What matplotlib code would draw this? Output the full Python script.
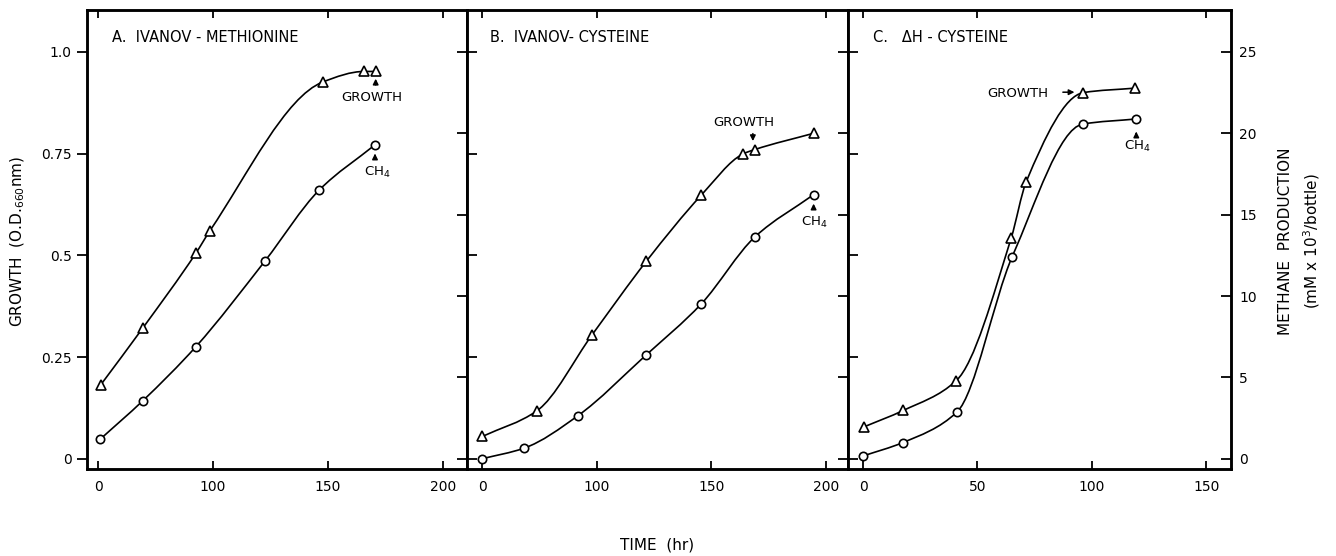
import matplotlib
matplotlib.use("Agg")
import matplotlib.pyplot as plt
from matplotlib.path import Path
from matplotlib.patches import PathPatch

# data (x in axis units, growth in O.D.660, methane in mM x 10^3/bottle)
# panels A and B have a broken time axis: the tick labelled "0" sits at axis position 50
a_growth_t = [51.2, 69.4, 92.5, 98.7, 147.7, 165.8, 170.7]
a_growth = [0.182, 0.321, 0.505, 0.561, 0.926, 0.952, 0.952]
a_ch4_t = [50.9, 69.4, 92.6, 122.6, 146.2, 170.4]
a_ch4 = [1.2, 3.56, 6.9, 12.16, 16.52, 19.29]

b_growth_t = [50.1, 73.9, 98.0, 121.7, 145.6, 163.7, 168.9, 194.6]
b_growth = [0.055, 0.118, 0.305, 0.486, 0.648, 0.749, 0.760, 0.800]
b_ch4_t = [49.9, 68.4, 91.7, 121.3, 145.6, 169.1, 194.6]
b_ch4 = [0.0, 0.66, 2.64, 6.35, 9.52, 13.65, 16.23]

c_growth_t = [0.6, 17.6, 40.7, 64.7, 71.3, 96.3, 118.9]
c_growth = [0.079, 0.119, 0.192, 0.542, 0.681, 0.900, 0.911]
c_ch4_t = [0.1, 17.4, 41.0, 65.2, 95.9, 119.4]
c_ch4 = [0.18, 1.0, 2.87, 12.43, 20.56, 20.88]

ab_xticks = [50, 100, 150, 200]
ab_xlabels = ["0", "100", "150", "200"]
c_xticks = [0, 50, 100, 150]
c_xlabels = ["0", "50", "100", "150"]
growth_ticks = [0, 0.25, 0.5, 0.75, 1.0]
growth_labels = ["0", "0.25", "0.5", "0.75", "1.0"]
methane_ticks = [0, 5, 10, 15, 20, 25]

titles = ["A.  IVANOV - METHIONINE", "B.  IVANOV- CYSTEINE", "C.   \u0394H - CYSTEINE"]

plt.rcParams["font.family"] = "DejaVu Sans"
plt.rcParams["mathtext.fontset"] = "dejavusans"


def smooth_line(ax, xs, ys):
    # hand-drawn look: monotone (pchip style) bezier curve through the points
    n = len(xs)
    h = [xs[k + 1] - xs[k] for k in range(n - 1)]
    d = [(ys[k + 1] - ys[k]) / h[k] for k in range(n - 1)]
    m = [d[0]] + [0.0] * (n - 2) + [d[-1]]
    for k in range(1, n - 1):
        if d[k - 1] * d[k] > 0:
            w1 = 2 * h[k] + h[k - 1]
            w2 = h[k] + 2 * h[k - 1]
            m[k] = (w1 + w2) / (w1 / d[k - 1] + w2 / d[k])
    verts = [(xs[0], ys[0])]
    codes = [Path.MOVETO]
    for k in range(n - 1):
        verts += [(xs[k] + h[k] / 3, ys[k] + m[k] * h[k] / 3),
                  (xs[k + 1] - h[k] / 3, ys[k + 1] - m[k + 1] * h[k] / 3),
                  (xs[k + 1], ys[k + 1])]
        codes += [Path.CURVE4] * 3
    ax.add_patch(PathPatch(Path(verts, codes), fill=False, lw=1.2,
                           edgecolor="black", zorder=2))


W, H = 1336, 556
fig = plt.figure(figsize=(W / 100, H / 100), dpi=100)

ylo, yhi = -0.025, 1.103
panels = [
    dict(px=(87, 467), xlim=(45.2, 210.4), xt=ab_xticks, xl=ab_xlabels,
         gt=a_growth_t, g=a_growth, ct=a_ch4_t, c=a_ch4),
    dict(px=(467, 848), xlim=(43.4, 209.6), xt=ab_xticks, xl=ab_xlabels,
         gt=b_growth_t, g=b_growth, ct=b_ch4_t, c=b_ch4),
    dict(px=(848, 1231), xlim=(-6.6, 160.8), xt=c_xticks, xl=c_xlabels,
         gt=c_growth_t, g=c_growth, ct=c_ch4_t, c=c_ch4),
]

axes = []
for i, p in enumerate(panels):
    l, r = p["px"]
    ax = fig.add_axes([l / W, 1 - 469 / H, (r - l) / W, 459 / H])
    ax.set_xlim(*p["xlim"])
    ax.set_ylim(ylo, yhi)
    ax.set_xticks(p["xt"])
    ax.set_xticklabels(p["xl"])
    ax.tick_params(axis="x", direction="in", top=True, length=6, width=1.3,
                   labelsize=10, pad=8)
    ax.set_yticks(growth_ticks)
    if i == 0:
        ax.set_yticklabels(growth_labels)
        ax.tick_params(axis="y", direction="out", length=7, width=1.3,
                       labelsize=10, pad=4)
    else:
        ax.set_yticklabels([])
        ax.tick_params(axis="y", direction="in", length=7, width=1.3)
    for s in ax.spines.values():
        s.set_linewidth(1.8)

    ax2 = ax.twinx()
    ax2.set_ylim(ylo * 25, yhi * 25)
    ax2.set_yticks(methane_ticks)
    ax2.tick_params(axis="y", direction="in", length=7, width=1.3,
                    labelsize=10, pad=6)
    if i < 2:
        ax2.set_yticklabels([])
    for s in ax2.spines.values():
        s.set_linewidth(1.8)

    smooth_line(ax, p["gt"], p["g"])
    ax.plot(p["gt"], p["g"], ls="none", marker="^", ms=7,
            mfc="white", mec="black", mew=1.2, zorder=3)
    smooth_line(ax2, p["ct"], p["c"])
    ax2.plot(p["ct"], p["c"], ls="none", marker="o", ms=6,
             mfc="white", mec="black", mew=1.2, zorder=3)

    ax.text(0.066 if i != 1 else 0.06, 0.939, titles[i], transform=ax.transAxes,
            fontsize=10.5, ha="left", va="center")
    axes.append(ax)

arrow = dict(arrowstyle="-|>", color="black", lw=1.1, mutation_scale=8)
txt = dict(fontsize=9.5, ha="center", va="center")

a, b, c = axes
a.annotate("", xy=(170.7, 0.941), xytext=(170.7, 0.912), arrowprops=arrow)
a.text(169.1, 0.889, "GROWTH", **txt)
a.annotate("", xy=(170.4, 0.757), xytext=(170.4, 0.735), arrowprops=arrow)
a.text(171.3, 0.703, "CH$_4$", **txt)

b.annotate("", xy=(168.1, 0.774), xytext=(168.1, 0.806), arrowprops=arrow)
b.text(164.1, 0.826, "GROWTH", **txt)
b.annotate("", xy=(194.6, 0.634), xytext=(194.6, 0.607), arrowprops=arrow)
b.text(194.7, 0.582, "CH$_4$", **txt)

c.annotate("", xy=(93.6, 0.901), xytext=(86.1, 0.901), arrowprops=arrow)
c.text(67.8, 0.899, "GROWTH", **txt)
c.annotate("", xy=(119.4, 0.811), xytext=(119.4, 0.789), arrowprops=arrow)
c.text(119.8, 0.767, "CH$_4$", **txt)

fig.text(18 / W, 1 - 241 / H, "GROWTH  (O.D.$_{660}$nm)", rotation=90,
         ha="center", va="center", fontsize=11)
fig.text(1300 / W, 1 - 241 / H, "METHANE  PRODUCTION\n(mM x 10$^3$/bottle)",
         rotation=90, ha="center", va="center", fontsize=11, linespacing=1.5)
fig.text(657 / W, 1 - 545 / H, "TIME  (hr)", ha="center", va="center",
         fontsize=11)

fig.savefig("out.png", dpi=100, facecolor="white")
